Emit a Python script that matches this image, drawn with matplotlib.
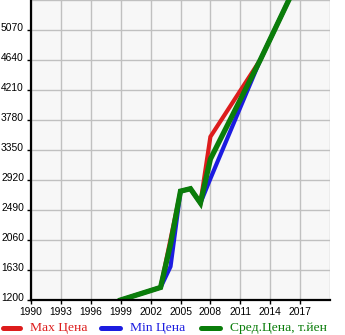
import matplotlib
matplotlib.use("Agg")
import matplotlib.pyplot as plt
from matplotlib.lines import Line2D
from matplotlib.transforms import ScaledTranslation

years = [1999, 2003, 2004, 2005, 2006, 2007, 2008, 2013, 2016]
max_price = [1200, 1380, 2070, 2760, 2795, 2590, 3540, 4640, 5540]
min_price = [1200, 1380, 1680, 2760, 2795, 2590, 2940, 4640, 5540]
avg_price = [1200, 1380, 2000, 2760, 2795, 2590, 3220, 4640, 5540]

xticks = [1990, 1993, 1996, 1999, 2002, 2005, 2008, 2011, 2014, 2017]
yticks = [1200, 1630, 2060, 2490, 2920, 3350, 3780, 4210, 4640, 5070]
labels = ["Max Цена", "Min Цена", "Сред.Цена, т.йен"]
colors = ["#dd1c1c", "#1c1ce0", "#0a7d0a"]

W, H = 345, 335
fig = plt.figure(figsize=(W / 100, H / 100), dpi=100)
ax = fig.add_axes([31 / W, 1 - 300 / H, 299 / W, 300 / H])
ax.set_facecolor("#f7f7f7")

ax.plot(years, max_price, color=colors[0], lw=3.0, solid_joinstyle="miter", zorder=3)
ax.plot(years, min_price, color=colors[1], lw=3.0, solid_joinstyle="miter", zorder=3)
ax.plot(years, avg_price, color=colors[2], lw=3.8, solid_joinstyle="miter", zorder=4)

ax.set_xlim(1990, 2020)
ax.set_ylim(1200, 5500)
ax.set_xticks(xticks)
ax.set_xticks([2020], minor=True)
ax.set_yticks(yticks)
ax.set_yticks([5500], minor=True)
ax.grid(True, which="both", color="#c0c0c0", lw=1.0, zorder=1)
ax.set_axisbelow(True)

for s in ["top", "right"]:
    ax.spines[s].set_visible(False)
for s in ["left", "bottom"]:
    ax.spines[s].set_color("black")
    ax.spines[s].set_linewidth(1.6)
    ax.spines[s].set_zorder(5)

ax.tick_params(axis="both", which="major", labelsize=7.4, length=3, color="black", width=1,
               pad=2)
ax.tick_params(axis="both", which="minor", length=0)
ax.set_yticklabels([str(v) for v in yticks])
ax.set_xticklabels([str(v) for v in xticks])
for lab in ax.get_xticklabels():
    lab.set_fontfamily("Liberation Sans")
    lab.set_fontsize(7.4)
for lab in ax.get_yticklabels():
    lab.set_transform(lab.get_transform() + ScaledTranslation(0, 3 / 100, fig.dpi_scale_trans))
    lab.set_fontfamily("Liberation Sans")
    lab.set_fontsize(7.4)

# legend, placed in figure pixel coordinates
leg_y = 1 - 328 / H
handle_px = [(0, 22.7), (98.3, 122.7), (198.3, 222.7)]
text_px = [30, 130, 230]
for (x0, x1), tx, lab, c in zip(handle_px, text_px, labels, colors):
    fig.add_artist(Line2D([(x0 + 2.5) / W, (x1 - 2.5) / W], [leg_y, leg_y],
                          transform=fig.transFigure, color=c, lw=3.6,
                          solid_capstyle="round"))
    fig.text(tx / W, leg_y, lab, color=c, ha="left", va="center",
             family="Liberation Serif", fontsize=9.7)

fig.savefig("out.png", dpi=100, facecolor="white")
